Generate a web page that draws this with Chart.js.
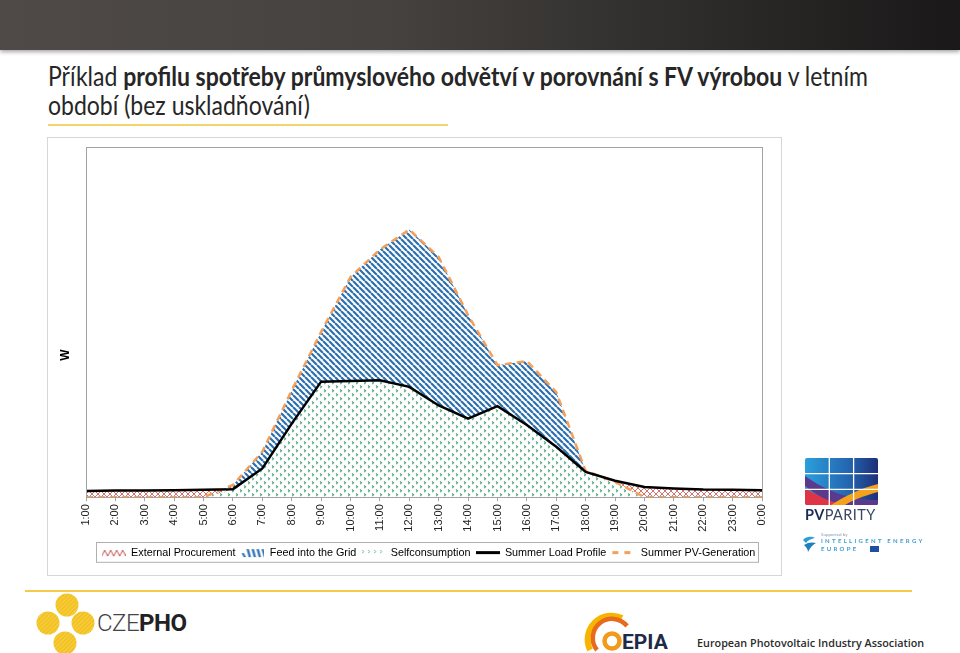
<!DOCTYPE html>
<html lang="cs">
<head>
<meta charset="utf-8">
<title>Profil spotřeby vs FV výroba</title>
<script src="https://cdn.jsdelivr.net/npm/chart.js@4.4.1/dist/chart.umd.min.js"></script>
<style>
  body { margin:0; width:960px; height:653px; background:#fff; position:relative; overflow:hidden; font-family:Lato, "Open Sans", sans-serif; }
  #topbar { position:absolute; left:0; top:0; width:960px; height:50px;
    background:linear-gradient(to right,#4f4a48 0%,#45423f 40%,#2c2a29 75%,#1a1818 100%);
    box-shadow:0 2px 4px rgba(0,0,0,.35); }
  #title { position:absolute; left:48px; top:62px; font-size:26px; line-height:28.5px; color:#262626; white-space:nowrap;
    transform:scaleX(0.885); transform-origin:0 0; }
  #title b { font-weight:700; }
  #titleline { position:absolute; left:48px; top:124px; width:400px; height:2px; background:#f0d46c; }
  #chartbox { position:absolute; left:47px; top:137px; width:733px; height:437px; border:1px solid #d6d6d6; }
  #chartwrap { position:absolute; left:47px; top:137px; width:763px; height:438px; }
  #bottomline { position:absolute; left:25px; top:590px; width:887px; height:2px; background:#f5c94a; }
  svg { position:absolute; overflow:visible; }
</style>
</head>
<body>
<div id="topbar"></div>
<div id="title">Příklad <b>profilu spotřeby průmyslového odvětví v porovnání s FV výrobou</b> v letním<br>období (bez uskladňování)</div>
<div id="titleline"></div>
<div id="chartbox"></div>
<div id="chartwrap"><canvas id="chart" width="763" height="438"></canvas></div>

<!-- PV PARITY logo -->
<svg width="90" height="70" style="left:803px;top:456px">
  <defs>
    <linearGradient id="gb" x1="0" x2="1"><stop offset="0" stop-color="#2a9fdc"/><stop offset="0.6" stop-color="#2465b0"/><stop offset="1" stop-color="#1e2f78"/></linearGradient>
    <clipPath id="cp"><rect x="2" y="2" width="73" height="47" rx="2"/></clipPath>
  </defs>
  <g clip-path="url(#cp)">
    <rect x="2" y="2" width="73" height="47" fill="url(#gb)"/>
    <path d="M2,20 C22,34 45,44 75,44 L75,52 L40,52 C25,46 12,38 2,30 Z" fill="#5b3a8e"/>
    <path d="M2,32 C14,40 28,46 42,49 L2,49 Z" fill="#df3346"/>
    <path d="M28,49 C42,40 58,32 75,28 L75,36 C60,40 48,45 42,49 Z" fill="#f4a21c"/>
    <g stroke="#fff" stroke-width="1.3"><line x1="26.3" y1="0" x2="26.3" y2="50"/><line x1="50.6" y1="0" x2="50.6" y2="50"/><line x1="0" y1="17.7" x2="80" y2="17.7"/><line x1="0" y1="33.3" x2="80" y2="33.3"/></g>
  </g>
  <text x="2" y="64" font-family="Lato" font-size="14.5" letter-spacing="0.4"><tspan font-weight="700" fill="#1d2a57">PV</tspan><tspan fill="#3a4466">PARITY</tspan></text>
</svg>
<svg width="130" height="24" style="left:800px;top:531px">
  <path d="M3,9 C6,5 12,5 15,7 C11,8 8,9 6,12 Z" fill="#2a9fd6"/>
  <path d="M4,14 C8,11 13,11 16,12 C12,14 10,17 8,21 C8,18 6,16 4,14 Z" fill="#1d7fc0"/>
  <text x="21" y="5" font-family="Lato" font-size="4.5" fill="#8a9aaa">Supported by</text>
  <text x="21" y="12" font-family="Lato" font-size="6" font-weight="700" fill="#3d9bd3" letter-spacing="2.3">INTELLIGENT ENERGY</text>
  <text x="21" y="20" font-family="Lato" font-size="6" font-weight="700" fill="#3d9bd3" letter-spacing="2.3">EUROPE</text>
  <rect x="70" y="15" width="9" height="6" fill="#1f4fa0"/>
</svg>

<div id="bottomline"></div>
<!-- CZEPHO logo -->
<svg width="170" height="62" style="left:33px;top:593px">
  <defs>
    <pattern id="hy" width="3" height="3" patternUnits="userSpaceOnUse" patternTransform="rotate(45)">
      <rect width="3" height="3" fill="#f3c21f"/><line x1="0" y1="0" x2="0" y2="3" stroke="#f8dc7a" stroke-width="1"/>
    </pattern>
  </defs>
  <circle cx="34" cy="12" r="11.5" fill="url(#hy)"/>
  <circle cx="15" cy="30" r="11.5" fill="url(#hy)"/>
  <circle cx="50" cy="30" r="11.5" fill="url(#hy)"/>
  <circle cx="32" cy="50" r="11.5" fill="url(#hy)"/>
  <text x="64" y="38" font-family="Roboto" font-size="24" letter-spacing="-0.5"><tspan fill="#444" font-weight="300">CZE</tspan><tspan fill="#222" font-weight="700">PHO</tspan></text>
</svg>
<!-- EPIA logo -->
<svg width="360" height="45" style="left:584px;top:610px">
  <path d="M6,40 A24,24 0 0 1 38,8" fill="none" stroke="#f7b500" stroke-width="6"/>
  <path d="M13,40 A18,18 0 0 1 43,16" fill="none" stroke="#e86a1c" stroke-width="4.5"/>
  <circle cx="28" cy="31" r="7.5" fill="none" stroke="#f29a1a" stroke-width="4.5"/>
  <text x="38" y="39" font-family="Roboto" font-size="21" font-weight="700" fill="#1f2b46">EPIA</text>
  <text x="113" y="37" font-family="Open Sans" font-size="10.8" font-weight="600" fill="#2b2b2b">European Photovoltaic Industry Association</text>
</svg>

<script>
// hodiny a hodnoty (W, relativni skala 0-100)
const hours = ['1:00','2:00','3:00','4:00','5:00','6:00','7:00','8:00','9:00','10:00','11:00','12:00',
  '13:00','14:00','15:00','16:00','17:00','18:00','19:00','20:00','21:00','22:00','23:00','0:00'];
const loadProfile = [1.8, 1.9, 1.9, 2.0, 2.1, 2.3, 8.2, 21.0, 33.0, 33.2, 33.4, 31.5,
  26.2, 22.4, 26.0, 20.6, 14.4, 7.2, 4.7, 2.9, 2.5, 2.2, 2.1, 2.0];
const pvGeneration = [0, 0, 0, 0, 0, 3.5, 13.0, 30.5, 47.2, 62.9, 70.7, 76.4,
  68.6, 52.0, 37.7, 38.9, 30.0, 7.5, 4.4, 0, 0, 0, 0, 0];
const selfConsumption = loadProfile.map((v, i) => Math.min(v, pvGeneration[i]));

const FONT = '"Liberation Sans", Arial, sans-serif';

function tile(size, draw) {
  const c = document.createElement('canvas');
  c.width = size; c.height = size;
  const g = c.getContext('2d');
  g.fillStyle = '#fff'; g.fillRect(0, 0, size, size);
  draw(g, size);
  return c.getContext('2d').createPattern(c, 'repeat');
}
const redHatch = tile(6, (g, s) => {
  g.strokeStyle = '#d0625c'; g.lineWidth = 0.9;
  g.beginPath(); g.moveTo(0, 0); g.lineTo(s, s); g.moveTo(s, 0); g.lineTo(0, s); g.stroke();
});
const blueStripes = tile(6, (g, s) => {
  g.strokeStyle = '#2c70b0'; g.lineWidth = 2.2;
  g.beginPath();
  for (const o of [-s, 0, s]) { g.moveTo(o, 0); g.lineTo(o + s, s); }
  g.stroke();
});
const greenDots = tile(8, (g) => {
  g.strokeStyle = '#4fa382'; g.lineWidth = 1.1;
  g.beginPath();
  g.moveTo(1, 0.5); g.lineTo(2.6, 1.8); g.lineTo(1.2, 3.2);
  g.moveTo(5, 4.5); g.lineTo(6.6, 5.8); g.lineTo(5.2, 7.2);
  g.stroke();
});

// ikony legendy
const ICON_W = 24;
function icon(draw) {
  const c = document.createElement('canvas');
  c.width = ICON_W; c.height = 11;
  draw(c.getContext('2d'));
  return c;
}
const icons = [
  icon(g => { g.strokeStyle = '#c0504d'; g.lineWidth = 1; g.beginPath(); g.moveTo(0, 9);
    for (let x = 0; x < ICON_W; x += 6) { g.lineTo(x + 3, 3); g.lineTo(x + 6, 9); } g.stroke(); }),
  icon(g => { g.fillStyle = '#2f72b2'; for (let x = 1; x < ICON_W; x += 5) {
    g.beginPath(); g.moveTo(x, 2 + (x < 3 ? 4 : 0)); g.lineTo(x + 2.4, 2 + (x < 3 ? 4 : 0)); g.lineTo(x + 4.6, 10); g.lineTo(x + 2.2, 10); g.fill(); } }),
  icon(g => { g.strokeStyle = '#5fae90'; g.lineWidth = 1; g.beginPath();
    for (let x = 1; x < ICON_W; x += 6) { g.moveTo(x, 3); g.lineTo(x + 1.5, 4.5); g.lineTo(x, 6); } g.stroke(); }),
  icon(g => { g.strokeStyle = '#000'; g.lineWidth = 3; g.beginPath(); g.moveTo(0, 5.5); g.lineTo(ICON_W, 5.5); g.stroke(); }),
  icon(g => { g.strokeStyle = '#f4a05a'; g.lineWidth = 3; g.beginPath(); g.moveTo(1, 5.5); g.lineTo(7, 5.5);
    g.moveTo(13, 5.5); g.lineTo(19, 5.5); g.stroke(); })
];

const frame = {
  id: 'frame',
  afterDraw(chart) {
    const { ctx, chartArea: a, legend } = chart;
    ctx.save();
    ctx.strokeStyle = '#a3a3a3'; ctx.lineWidth = 1;
    ctx.strokeRect(Math.round(a.left) + 0.5, Math.round(a.top) + 0.5, Math.round(a.right - a.left), Math.round(a.bottom - a.top));
    const hb = legend.legendHitBoxes;
    const l = Math.min(...hb.map(h => h.left));
    const r = Math.max(...hb.map(h => h.left + h.width));
    ctx.strokeStyle = '#b0b0b0';
    ctx.strokeRect(Math.round(l) - 5.5, Math.round(hb[0].top) - 4.5, Math.round(r - l) + 8, hb[0].height + 9);
    ctx.translate(19, 218); ctx.rotate(-Math.PI / 2);
    ctx.font = 'bold 12px ' + FONT; ctx.fillStyle = '#000';
    ctx.textAlign = 'center'; ctx.textBaseline = 'middle';
    ctx.fillText('W', 0, 0);
    ctx.restore();
  }
};

const area = (label, data, fill, bg) => ({
  label, data, fill, backgroundColor: bg, borderColor: 'transparent', borderWidth: 0,
  pointRadius: 0, tension: 0
});

new Chart(document.getElementById('chart'), {
  type: 'line',
  data: {
    labels: hours,
    datasets: [
      area('External Procurement', loadProfile, 2, redHatch),
      area('Feed into the Grid', pvGeneration, 2, blueStripes),
      area('Selfconsumption', selfConsumption, 'origin', greenDots),
      { label: 'Summer Load Profile', data: loadProfile, fill: false, borderColor: '#000', borderWidth: 2.5, pointRadius: 0 },
      { label: 'Summer PV-Generation', data: pvGeneration, fill: false, borderColor: '#f4a05a', borderWidth: 2.5,
        borderDash: [7, 5], pointRadius: 0 }
    ]
  },
  options: {
    responsive: false,
    animation: false,
    devicePixelRatio: 1,
    layout: { padding: { top: 10, left: 0, right: 0, bottom: 7 } },
    scales: {
      x: {
        ticks: { font: { family: FONT, size: 11 }, color: '#222', minRotation: 90, maxRotation: 90, autoSkip: false, padding: 3 },
        grid: { display: true, drawOnChartArea: false, tickLength: 4, tickColor: '#a3a3a3' },
        border: { color: '#a3a3a3' },
        afterFit: s => { s.height = 45; }
      },
      y: {
        min: 0, max: 100,
        ticks: { display: false },
        grid: { display: false },
        border: { color: '#a3a3a3' },
        afterFit: s => { s.width = 39; }
      },
      y2: {
        position: 'right', display: true, min: 0, max: 1,
        ticks: { display: false }, grid: { display: false }, border: { display: false },
        afterFit: s => { s.width = 48; }
      }
    },
    plugins: {
      filler: { drawTime: 'beforeDatasetsDraw' },
      tooltip: { enabled: false },
      legend: {
        position: 'bottom',
        labels: {
          usePointStyle: true, pointStyleWidth: ICON_W, boxHeight: 11, padding: 5,
          font: { family: FONT, size: 10.8 }, color: '#000',
          generateLabels: chart => chart.data.datasets.map((ds, i) => ({
            text: ds.label, pointStyle: icons[i], datasetIndex: i, hidden: false,
            fillStyle: 'transparent', strokeStyle: 'transparent', lineWidth: 0, fontColor: '#000'
          }))
        }
      }
    }
  },
  plugins: [frame]
});
</script>
</body>
</html>
